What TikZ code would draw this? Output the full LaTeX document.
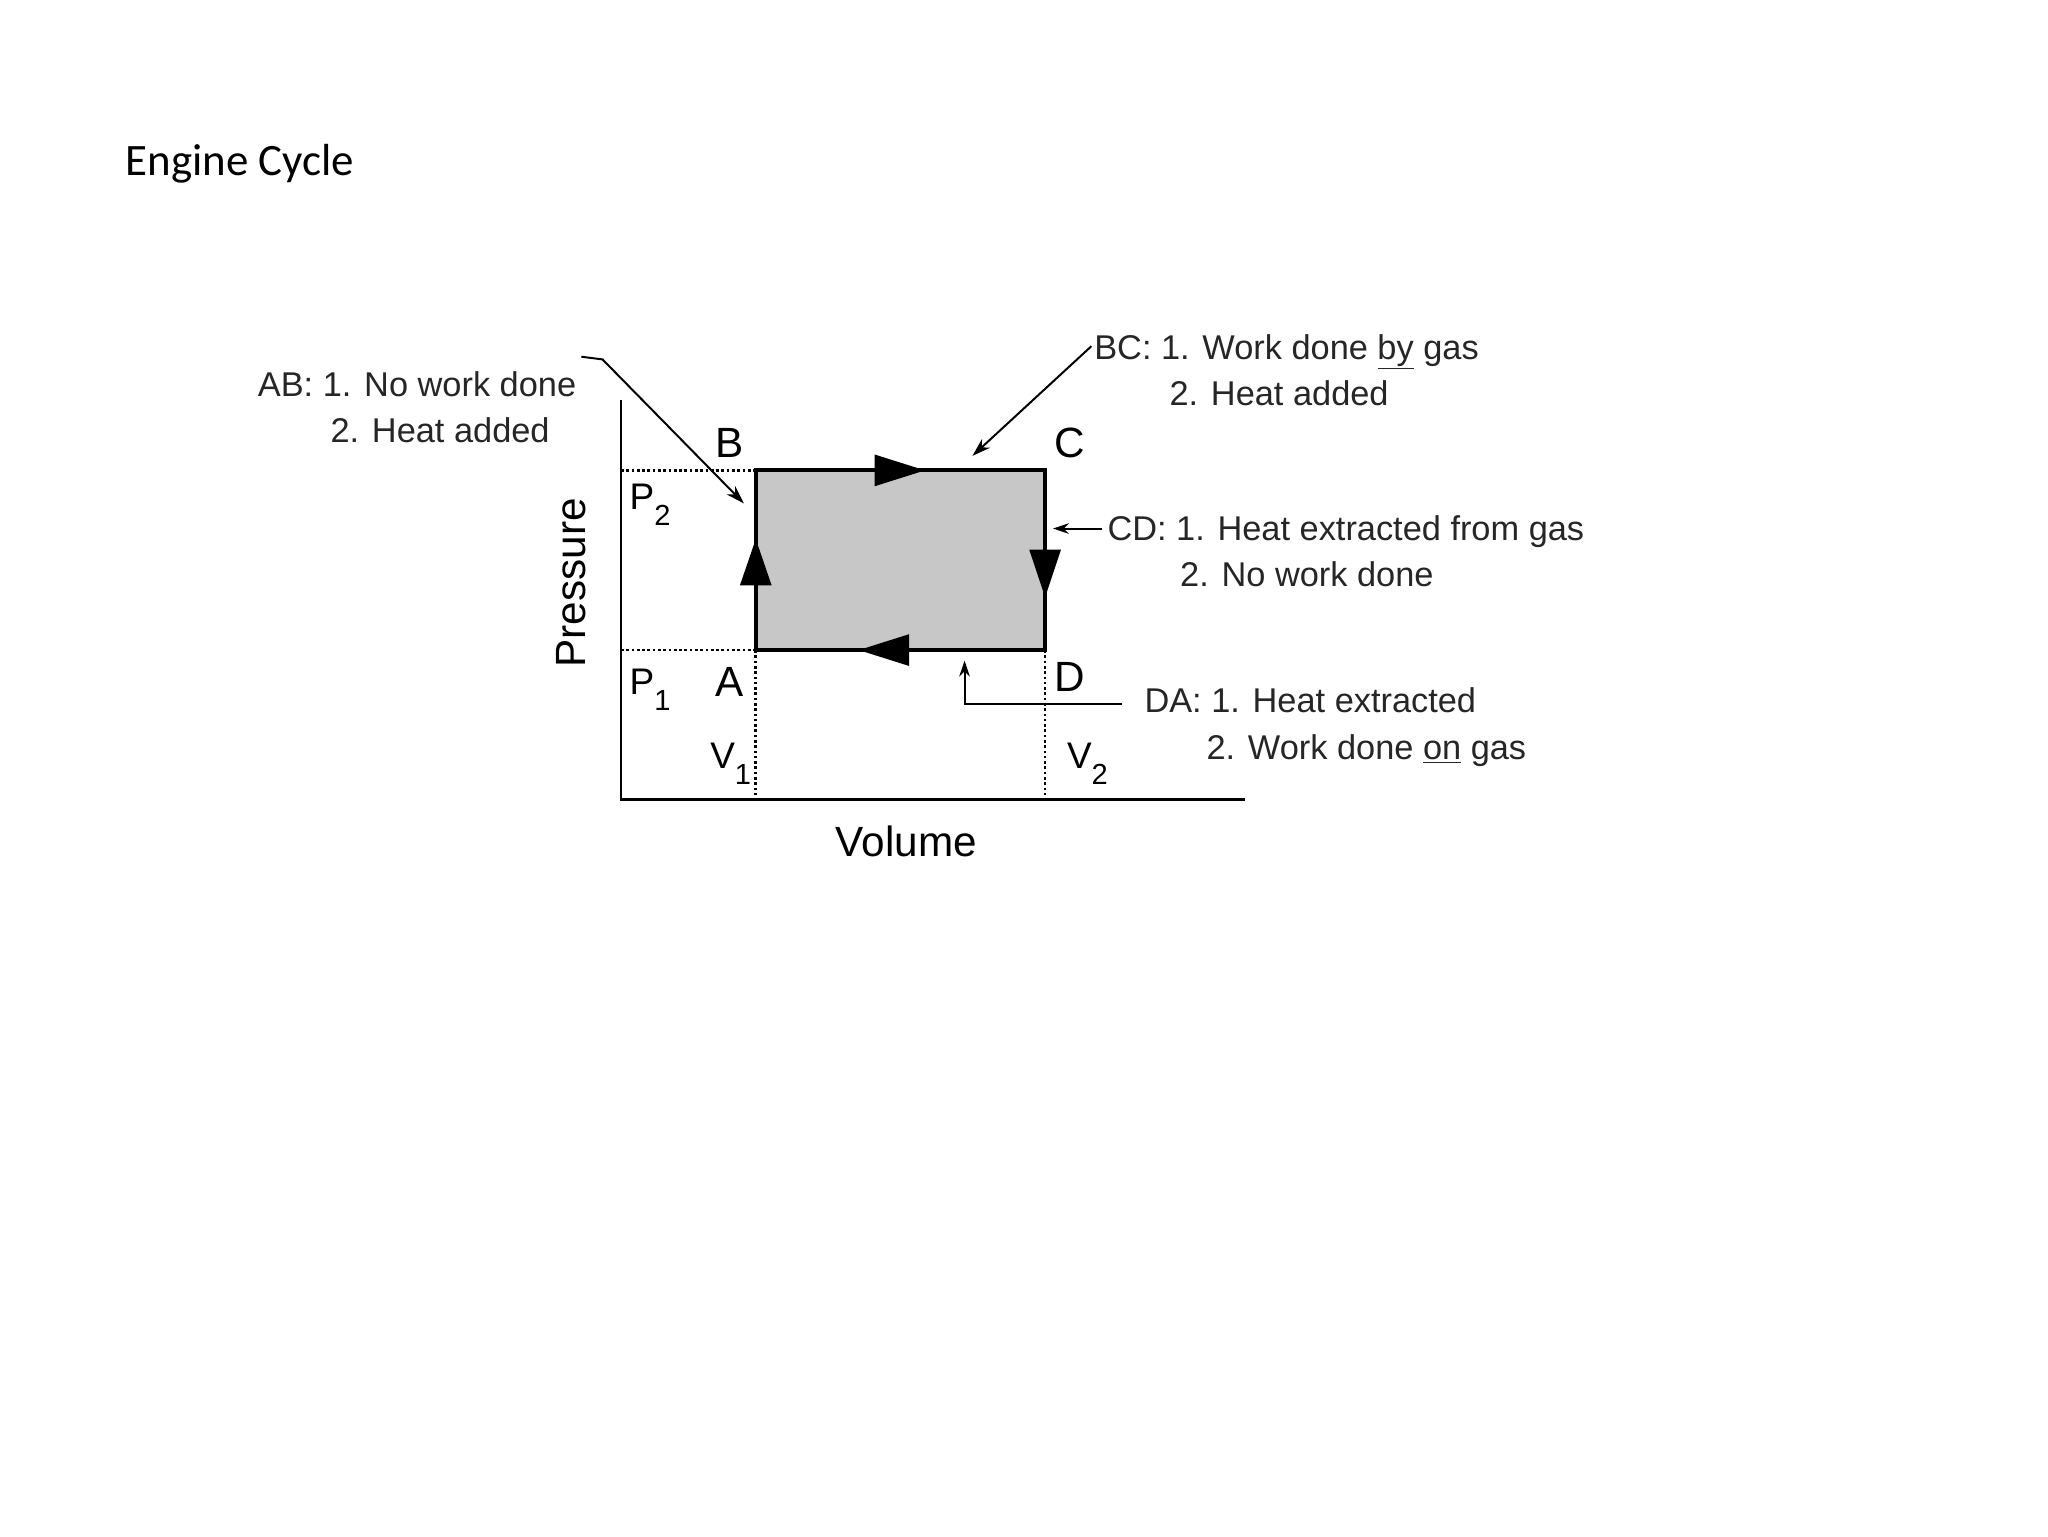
\documentclass[tikz,border=0pt]{standalone}
\usepackage{fontspec}
\usetikzlibrary{arrows.meta}
\setmainfont{Liberation Sans}
\newfontfamily\titlefont{Carlito}
\begin{document}
\begin{tikzpicture}[x=1pt,y=-1pt,
  lbl/.style={font=\fontsize{26}{30}\selectfont,anchor=base west,inner sep=0pt,text=black!85},
  big/.style={font=\fontsize{32}{36}\selectfont,inner sep=0pt},
  tri/.style={fill=black}]
\useasboundingbox (0,0) rectangle (1550,1162.5);
\node[anchor=base west,inner sep=0pt,font=\titlefont\fontsize{34}{40}\selectfont] (title) at (95,133) {Engine Cycle};
% box
\coordinate (A) at (572,492); \coordinate (B) at (572,356);
\coordinate (C) at (791,356); \coordinate (D) at (791,492);
\filldraw[fill=black!22,draw=black,line width=3pt] (A) -- (B) -- (C) -- (D) -- cycle;
% axes
\coordinate (O) at (470,605); \coordinate (Ytop) at (470,303); \coordinate (Xend) at (942,605);
\draw[line width=2pt] (Ytop) -- (O) -- (Xend);
% dotted
\draw[dotted,line width=2pt] (470,356) -- (B);
\draw[dotted,line width=2pt] (470,492) -- (A);
\draw[dotted,line width=2pt] (A) -- (572,605);
\draw[dotted,line width=2pt] (D) -- (791,605);
% direction triangles
\fill (700,356) -- (662,344) -- (662,368) -- cycle;
\fill (650,492) -- (688,480) -- (688,504) -- cycle;
\fill (572,408) -- (560,443) -- (584,443) -- cycle;
\fill (791,452) -- (779,416) -- (803,416) -- cycle;
% labels
\node[big] (lB) at (552,335) {B};
\node[big] (lC) at (810,335) {C};
\node[big] (lA) at (552,516) {A};
\node[big] (lD) at (810,512) {D};
\node[big,font=\fontsize{28}{32}\selectfont] (lP2) at (492,382) {P\raisebox{-0.45em}{\fontsize{22}{24}\selectfont 2}};
\node[big,font=\fontsize{28}{32}\selectfont] (lP1) at (492,522) {P\raisebox{-0.45em}{\fontsize{22}{24}\selectfont 1}};
\node[big,font=\fontsize{28}{32}\selectfont] (lV1) at (553,578) {V\raisebox{-0.45em}{\fontsize{22}{24}\selectfont 1}};
\node[big,font=\fontsize{28}{32}\selectfont] (lV2) at (823,578) {V\raisebox{-0.45em}{\fontsize{22}{24}\selectfont 2}};
\node[big,rotate=90] (press) at (432,441) {Pressure};
\node[big] (vol) at (686,637) {Volume};
% annotation texts
\node[lbl] (ab1) at (195,300) {AB: 1. No work done};
\node[lbl] (ab2) at (250,335) {2. Heat added};
\node[lbl] (bc1) at (828,272) {BC: 1. Work done \underline{by} gas};
\node[lbl] (bc2) at (885,307) {2. Heat added};
\node[lbl] (cd1) at (838,409) {CD: 1. Heat extracted from gas};
\node[lbl] (cd2) at (893,444) {2. No work done};
\node[lbl] (da1) at (866,539) {DA: 1. Heat extracted};
\node[lbl] (da2) at (913,575) {2. Work done \underline{on} gas};
% leaders
\coordinate (abS) at (440,270); \coordinate (abK) at (456,272); \coordinate (abT) at (563,381);
\draw[line width=1.5pt,-{Stealth[length=14pt,width=9pt]}] (abS) -- (abK) -- (abT);
\coordinate (bcS) at (826,262); \coordinate (bcT) at (736,345);
\draw[line width=1.5pt,-{Stealth[length=14pt,width=9pt]}] (bcS) -- (bcT);
\coordinate (cdS) at (834,400); \coordinate (cdT) at (797,400);
\draw[line width=1.5pt,-{Stealth[length=12pt,width=8pt]}] (cdS) -- (cdT);
\coordinate (daS) at (849,533); \coordinate (daK) at (730,533); \coordinate (daT) at (730,500);
\draw[line width=1.5pt,-{Stealth[length=12pt,width=8pt]}] (daS) -- (daK) -- (daT);
\end{tikzpicture}
\end{document}
